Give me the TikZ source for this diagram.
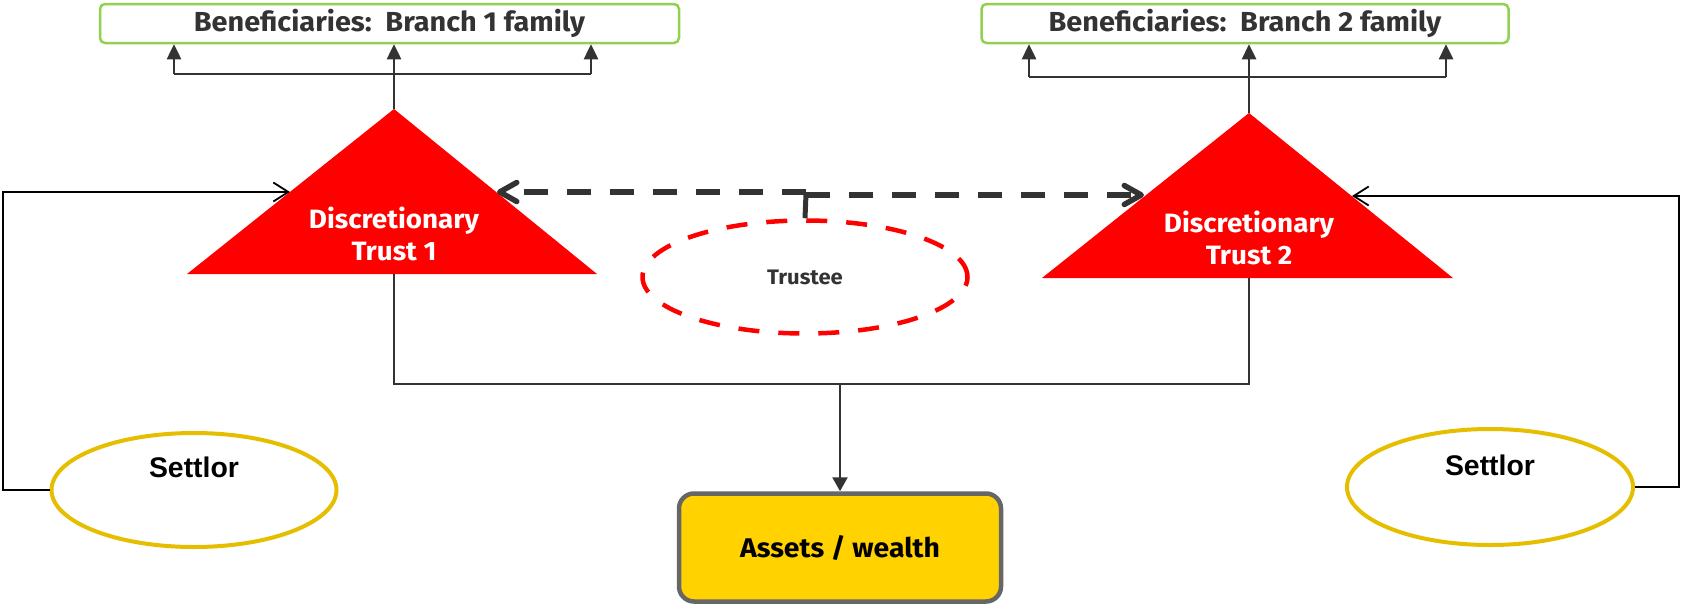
\documentclass[tikz,border=0pt]{standalone}
\usepackage{fontspec}
\setmainfont{Fira Sans}[FakeStretch=1.05]
\newfontfamily\arialfont{Liberation Sans}
\usetikzlibrary{arrows.meta,calc,shapes.geometric}
\definecolor{eyred}{HTML}{FF0000}
\definecolor{eygray}{HTML}{333333}
\definecolor{eygreen}{HTML}{92D050}
\definecolor{eyyellow}{HTML}{FFD200}
\definecolor{ellyellow}{HTML}{E6BE00}
\definecolor{boxgray}{HTML}{666666}
\tikzset{
  benbox/.style={draw=eygreen, line width=2.5pt, rounded corners=5pt, fill=white, font=\bfseries\fontsize{27.5}{30}\selectfont, text=eygray},
  trusttext/.style={font=\bfseries\fontsize{26.5}{32}\selectfont, text=white, align=center},
  settlor/.style={ellipse, draw=ellyellow, line width=4pt, fill=white},
  settlortext/.style={font=\arialfont\bfseries\fontsize{28.4}{32}\selectfont, text=black},
  assetbox/.style={draw=boxgray, line width=4.5pt, rounded corners=15pt, fill=eyyellow, font=\bfseries\fontsize{27}{30}\selectfont, text=black},
  trusteestyle/.style={ellipse, draw=eyred, line width=4.5pt, dash pattern=on 21pt off 19pt, font=\bfseries\fontsize{21}{24}\selectfont, text=eygray},
  conn/.style={draw=eygray, line width=2.5pt},
  uparrow/.style={conn, -{Triangle[length=15pt, width=14pt]}},
  blackconn/.style={draw=black, line width=1.8pt, -{Straight Barb[length=15pt, width=19pt, line width=1.8pt]}},
  dashconn/.style={draw=eygray, line width=5.5pt, dash pattern=on 24pt off 19pt},
  dashtip/.style={-{Straight Barb[round, length=17pt, width=19pt, line width=5.5pt]}}
}
\begin{document}
\begin{tikzpicture}[x=1pt, y=-1pt]
\useasboundingbox (0,0) rectangle (1681,605);

% Beneficiary boxes
\node[benbox, minimum width=579pt, minimum height=39pt, inner sep=0pt] (ben1) at (389.5,23.5) {Beneficiaries:\ \ Branch 1 family};
\node[benbox, minimum width=527pt, minimum height=39pt, inner sep=0pt] (ben2) at (1245,23.5) {Beneficiaries:\ \ Branch 2 family};

% Triangles
\coordinate (t1apex) at (394,109);
\coordinate (t1base) at (394,274);
\fill[eyred] (187,274) -- (t1apex) -- (597,274) -- cycle;
\node[trusttext] (t1) at (394,234) {Discretionary\\Trust 1};

\coordinate (t2apex) at (1249,113);
\coordinate (t2base) at (1249,278);
\fill[eyred] (1042,278) -- (t2apex) -- (1453,278) -- cycle;
\node[trusttext] (t2) at (1249,238) {Discretionary\\Trust 2};

% Beneficiary connectors
\coordinate (b1l) at (174,74);
\coordinate (b1r) at (591,74);
\draw[conn] (b1l) -- (b1r);
\draw[uparrow] (t1apex) -- (t1apex |- ben1.south);
\draw[uparrow] (b1l) -- (b1l |- ben1.south);
\draw[uparrow] (b1r) -- (b1r |- ben1.south);

\coordinate (b2l) at (1029,77);
\coordinate (b2r) at (1446,77);
\draw[conn] (b2l) -- (b2r);
\draw[uparrow] (t2apex) -- (t2apex |- ben2.south);
\draw[uparrow] (b2l) -- (b2l |- ben2.south);
\draw[uparrow] (b2r) -- (b2r |- ben2.south);

% Trustee
\node[trusteestyle, minimum width=325pt, minimum height=113pt] (trustee) at (805,277) {Trustee};
\coordinate (tl) at (497,192);
\coordinate (tr) at (1144,195);
\coordinate (jl) at (806,192);
\coordinate (jr) at (806,195);
\draw[dashconn, dashtip] (jl) -- (tl);
\draw[dashconn, dashtip] (jr) -- (tr);
\draw[draw=eygray, line width=5pt] (806,194) -- (trustee.north);

% Assets
\node[assetbox, minimum width=322pt, minimum height=108pt] (assets) at (840,547.5) {Assets / wealth};
\coordinate (m1) at (394,384);
\coordinate (m2) at (1249,384);
\coordinate (mj) at (840,384);
\draw[conn] (t1base) -- (m1) -- (m2) -- (t2base);
\draw[conn, -{Triangle[length=14pt, width=15pt]}] (mj) -- (assets.north);

% Settlors
\node[settlor, minimum width=285pt, minimum height=114pt] (s1) at (194,490) {};
\node[settlortext] (s1t) at (194,467) {Settlor};
\node[settlor, minimum width=286pt, minimum height=116pt] (s2) at (1490,487) {};
\node[settlortext] (s2t) at (1490,465) {Settlor};

\coordinate (s1a) at (3,490);
\coordinate (s1b) at (3,192);
\coordinate (s1tip) at (290,192);
\draw[blackconn] (s1.west) -- (s1a) -- (s1b) -- (s1tip);

\coordinate (s2a) at (1679,487);
\coordinate (s2b) at (1679,196);
\coordinate (s2tip) at (1352,196);
\draw[blackconn] (s2.east) -- (s2a) -- (s2b) -- (s2tip);
\end{tikzpicture}
\end{document}
